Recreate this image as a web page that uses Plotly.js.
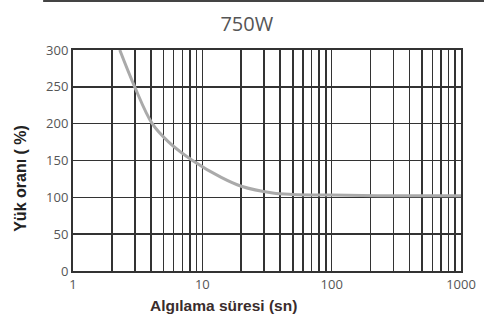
<!DOCTYPE html>
<html>
<head>
<meta charset="utf-8">
<script src="https://cdn.plot.ly/plotly-3.0.1.min.js"></script>
<style>html,body{margin:0;padding:0;background:#fff;}#chart{width:484px;height:327px;}</style>
</head>
<body>
<div id="chart"></div>
<script>
const detectTime = [2.3, 3.0, 4.1, 5.5, 8.4, 14, 20, 35, 50, 100, 300, 1000];
const loadRatio = [300, 250, 200, 175, 150, 127, 115, 106, 104, 103, 102, 102];
const xTickVals = [1,2,3,4,5,6,7,8,9,10,20,30,40,50,60,70,80,90,100,200,300,400,500,600,700,800,900,1000];
const xTickText = ['1','','','','','','','','','10','','','','','','','','','100','','','','','','','','','1000'];
const yTickVals = [0, 50, 100, 150, 200, 250, 300];

const trace = {
  x: detectTime, y: loadRatio, type: 'scatter', mode: 'lines',
  line: {color: '#aaaaaa', width: 3, shape: 'spline', smoothing: 1.0},
  hoverinfo: 'skip'
};
const tickFont = {family: '"Open Sans", "DejaVu Sans", sans-serif', size: 13, color: '#555'};
const layout = {
  width: 484, height: 327,
  margin: {l: 73, r: 23, t: 50, b: 56},
  paper_bgcolor: '#fff', plot_bgcolor: '#fff',
  showlegend: false,
  title: {text: '750W', x: 0.51, xanchor: 'center', y: 0.928, yanchor: 'middle',
          font: {family: '"Open Sans", "DejaVu Sans", sans-serif', size: 20, color: '#555'}},
  xaxis: {
    type: 'log', range: [0, 3],
    tickmode: 'array', tickvals: xTickVals, ticktext: xTickText,
    showgrid: true, gridcolor: '#333', gridwidth: 1.6,
    showline: true, linecolor: '#333', linewidth: 2, mirror: true,
    ticks: '', tickfont: tickFont, zeroline: false
  },
  yaxis: {
    range: [0, 300], tickmode: 'array', tickvals: yTickVals,
    showgrid: true, gridcolor: '#333', gridwidth: 1.6,
    showline: true, linecolor: '#333', linewidth: 2, mirror: true,
    ticks: '', tickfont: tickFont, zeroline: false
  },
  annotations: [
    {text: '<b>Algılama süresi (sn)</b>', xref: 'paper', yref: 'paper', x: 0.389, y: -0.158, xanchor: 'center', yanchor: 'middle',
     showarrow: false, font: {family: '"Liberation Sans", Arial, sans-serif', size: 15.5, color: '#3a2c2c'}},
    {text: '<b>Yük oranı ( %)</b>', xref: 'paper', yref: 'paper', x: -0.135, y: 0.42, xanchor: 'center', yanchor: 'middle',
     textangle: -90, showarrow: false, font: {family: '"Liberation Sans", Arial, sans-serif', size: 16, color: '#222'}}
  ],
  shapes: [
    {type: 'line', xref: 'paper', yref: 'paper', x0: -0.077, x1: 1.06, y0: 1.222, y1: 1.222, line: {color: '#444', width: 2}}
  ]
};
Plotly.newPlot('chart', [trace], layout, {displayModeBar: false, staticPlot: true});
</script>
</body>
</html>
